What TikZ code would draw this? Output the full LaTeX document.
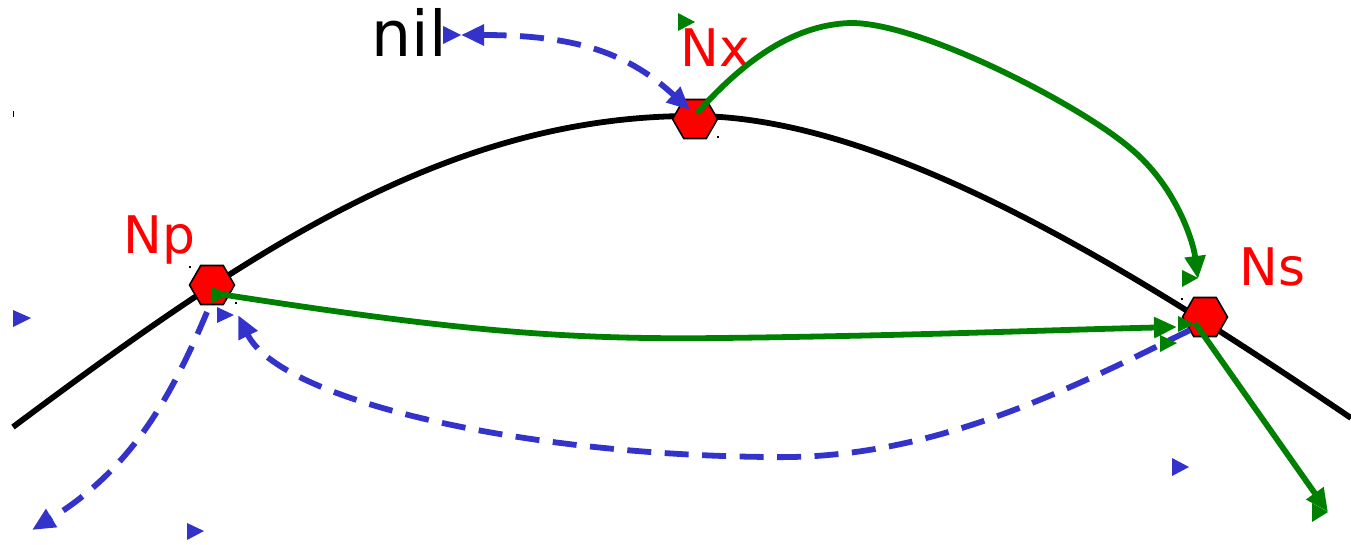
\documentclass[tikz,border=0pt]{standalone}
\usepackage{fontspec}
\setmainfont{DejaVu Sans}
\usetikzlibrary{arrows.meta,shapes.geometric}
\definecolor{myblue}{RGB}{51,51,204}
\definecolor{mygreen}{RGB}{0,128,0}
\begin{document}
\begin{tikzpicture}[x=0.02cm,y=-0.02cm,
  >={Triangle[length=0.46cm,width=0.4cm]},
  hexnode/.style={regular polygon, regular polygon sides=6, minimum size=0.9cm, inner sep=0pt, fill=red, draw=black, line width=0.9pt},
  lbl/.style={text=red, font=\fontsize{29.5}{32}\selectfont, inner sep=0pt, anchor=base west},
  greenline/.style={draw=mygreen, line width=3.3pt},
  blueline/.style={draw=myblue, line width=3.3pt, dash pattern=on 0.48cm off 0.27cm},
  curveline/.style={draw=black, line width=3.3pt},
  strayg/.style={fill=mygreen},
  strayb/.style={fill=myblue}
]
\useasboundingbox (0,0) rectangle (1351,544);

% main black curve
\draw[curveline] (13,427) .. controls (250,250) and (450,115) .. (695,116)
   .. controls (890,117) and (1140,275) .. (1351,418);
\draw[line width=0.5pt] (13,111) -- (13,117);

% hexagon nodes
\node[hexnode] (Np) at (212,285) {};
\node[hexnode] (Nx) at (695,119) {};
\node[hexnode] (Ns) at (1205,317) {};

% tiny marks
\fill (189,266) rectangle (191,268);
\fill (235,302) rectangle (237,304);
\fill (717,136) rectangle (719,138);
\fill (1181,298) rectangle (1183,300);

% labels
\node[lbl] (lNx) at (680,67) {Nx};
\node[lbl] (lNp) at (123,253) {Np};
\node[lbl] (lNs) at (1239,285) {Ns};
\node[inner sep=0pt, anchor=base west, font=\fontsize{36}{40}\selectfont] (nil) at (371,57) {nil};

% connector end points
\coordinate (nxS) at ([shift={(2,-6)}]Nx.center);
\coordinate (npS) at ([shift={(1,8)}]Np.center);
\coordinate (nsE) at ([shift={(-28,10)}]Ns.center);
\coordinate (nsT) at ([shift={(-7,-38)}]Ns.center);
\coordinate (nsB) at ([shift={(-15,13)}]Ns.center);
\coordinate (npB) at ([shift={(26,30)}]Np.center);
\coordinate (npD) at ([shift={(-5,27)}]Np.center);
\coordinate (nilE) at (461,35);
\coordinate (nxB) at ([shift={(-5,-9)}]Nx.center);
\coordinate (bl) at (32,530);
\coordinate (br) at (1328,512);

% green arrows
\draw[greenline, ->] (nxS) .. controls (740,65) and (790,25) .. (850,23)
   .. controls (920,22) and (1080,105) .. (1130,148)
   .. controls (1175,185) and (1193,240) .. (nsT);
\draw[greenline, ->] (npS) .. controls (450,330) and (560,340) .. (720,338)
   .. controls (900,336) and (1050,330) .. (nsE);
\draw[greenline, ->] ([shift={(-10,6)}]Ns.center) -- (br);

% blue dashed arrows
\draw[blueline, <->] (nilE) .. controls (580,35) and (630,55) .. (nxB);
\draw[blueline, ->] (nsB) .. controls (1050,400) and (920,460) .. (770,457)
   .. controls (520,455) and (280,400) .. (npB);
\draw[blueline, ->] (npD) .. controls (170,400) and (130,470) .. (bl);

% stray arrowheads
\fill[strayg] (678,13) -- (678,31) -- (695,22) -- cycle;
\fill[strayg] (212,287) -- (212,303) -- (230,295) -- cycle;
\fill[strayg] (1182,270) -- (1182,287) -- (1198,278) -- cycle;
\fill[strayg] (1178,316) -- (1178,332) -- (1194,324) -- cycle;
\fill[strayg] (1160,335) -- (1160,352) -- (1177,343) -- cycle;
\fill[strayg] (1312,503) -- (1312,522) -- (1328,512) -- cycle;
\fill[strayb] (13,310) -- (13,327) -- (31,318) -- cycle;
\fill[strayb] (187,523) -- (187,540) -- (204,531) -- cycle;
\fill[strayb] (1172,458) -- (1172,476) -- (1189,467) -- cycle;
\fill[strayb] (217,307) -- (217,323) -- (234,315) -- cycle;
\fill[strayb] (443,26) -- (443,44) -- (461,35) -- cycle;
\end{tikzpicture}
\end{document}
